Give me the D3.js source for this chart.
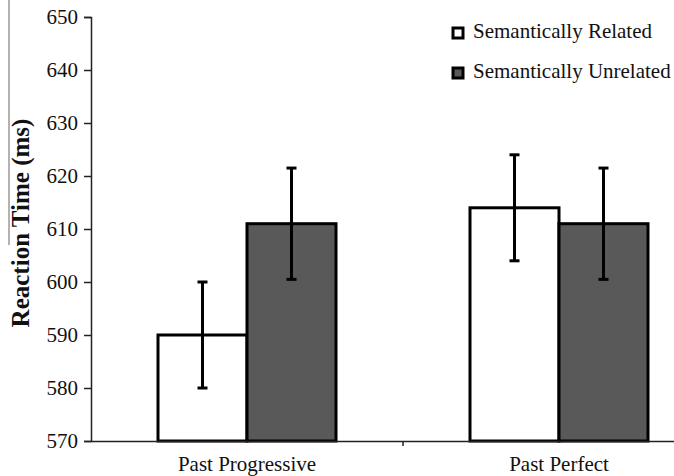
<html>
<head>
<script src="https://d3js.org/d3.v7.min.js"></script>
<style>
  body { margin: 0; background: #fff; }
  text { font-family: "Liberation Serif", "Times New Roman", serif; fill: #111; }
</style>
</head>
<body>
<svg width="674" height="476"></svg>
<script>
// data
var conditions = ['Past Progressive', 'Past Perfect'];
var series = ['Semantically Related', 'Semantically Unrelated'];
var relatedMeans = [590, 614];
var unrelatedMeans = [611, 611];
var relatedErr = [10, 10];
var unrelatedErr = [10.5, 10.5];
var yTicks = [570, 580, 590, 600, 610, 620, 630, 640, 650];
var colors = ['#ffffff', '#595959'];

var rows = [];
conditions.forEach(function(c, i) {
  rows.push({cond: c, s: series[0], v: relatedMeans[i], e: relatedErr[i]});
  rows.push({cond: c, s: series[1], v: unrelatedMeans[i], e: unrelatedErr[i]});
});

var svg = d3.select('svg');
var mLeft = 91, mTop = 17, mBottom = 441;

var y = d3.scaleLinear().domain([570, 650]).range([mBottom, mTop]);
var x0 = d3.scaleBand().domain(conditions).range([mLeft, mLeft + 624]).padding(0);
var x1 = d3.scaleBand().domain(series).range([67, x0.bandwidth() - 67]).padding(0);
var fill = d3.scaleOrdinal().domain(series).range(colors);

// odd scan line left of the title
svg.append('line')
  .attr('x1', 9).attr('x2', 9).attr('y1', 0).attr('y2', 245)
  .attr('stroke', '#666').attr('stroke-width', 1);

// bars
svg.append('g')
  .selectAll('rect')
  .data(rows)
  .enter()
  .append('rect')
  .attr('x', function(d) { return x0(d.cond) + x1(d.s); })
  .attr('y', function(d) { return y(d.v); })
  .attr('width', x1.bandwidth())
  .attr('height', function(d) { return y(570) - y(d.v); })
  .attr('fill', function(d) { return fill(d.s); })
  .attr('stroke', '#000')
  .attr('stroke-width', 3);

// error bars
var err = svg.append('g').selectAll('g').data(rows).enter().append('g')
  .attr('transform', function(d) { return 'translate(' + (x0(d.cond) + x1(d.s) + x1.bandwidth() / 2) + ',0)'; });
err.append('line')
  .attr('y1', function(d) { return y(d.v + d.e); })
  .attr('y2', function(d) { return y(d.v - d.e); })
  .attr('stroke', '#000').attr('stroke-width', 3);
err.append('line')
  .attr('x1', -5).attr('x2', 5)
  .attr('y1', function(d) { return y(d.v + d.e); })
  .attr('y2', function(d) { return y(d.v + d.e); })
  .attr('stroke', '#000').attr('stroke-width', 3);
err.append('line')
  .attr('x1', -5).attr('x2', 5)
  .attr('y1', function(d) { return y(d.v - d.e); })
  .attr('y2', function(d) { return y(d.v - d.e); })
  .attr('stroke', '#000').attr('stroke-width', 3);

// y axis
var yAxis = svg.append('g')
  .attr('transform', 'translate(' + mLeft + ',0)')
  .call(d3.axisLeft(y).tickValues(yTicks).tickSize(7).tickPadding(6));
yAxis.select('.domain').attr('stroke', '#222').attr('stroke-width', 1.5);
yAxis.selectAll('.tick line').attr('stroke', '#222').attr('stroke-width', 1.5);
yAxis.selectAll('text').style('font-size', '21px').attr('fill', '#111');

// x axis
var xAxis = svg.append('g')
  .attr('transform', 'translate(0,' + mBottom + ')')
  .call(d3.axisBottom(x0).tickSize(0).tickPadding(15).tickSizeOuter(0));
xAxis.select('.domain').attr('stroke', '#222').attr('stroke-width', 1.5);
xAxis.selectAll('text').style('font-size', '21px').attr('fill', '#111');
xAxis.selectAll('.between')
  .data(conditions.slice(1))
  .enter()
  .append('line')
  .attr('class', 'between')
  .attr('x1', function(d) { return x0(d); })
  .attr('x2', function(d) { return x0(d); })
  .attr('y1', 0).attr('y2', 5)
  .attr('stroke', '#222').attr('stroke-width', 1.5);

// y title
svg.append('text')
  .attr('transform', 'translate(29,223) rotate(-90)')
  .attr('text-anchor', 'middle')
  .style('font-size', '25px')
  .style('font-weight', 'bold')
  .text('Reaction Time (ms)');

// legend
var legend = svg.append('g').selectAll('g').data(series).enter().append('g')
  .attr('transform', function(d, i) { return 'translate(452,' + (38 + i * 40) + ')'; });
legend.append('rect')
  .attr('x', 1).attr('y', -10).attr('width', 10).attr('height', 10)
  .attr('fill', function(d) { return fill(d); })
  .attr('stroke', '#000').attr('stroke-width', 3);
legend.append('text')
  .attr('x', 21).attr('y', 0)
  .style('font-size', '21px')
  .text(function(d) { return d; });
</script>
</body>
</html>
